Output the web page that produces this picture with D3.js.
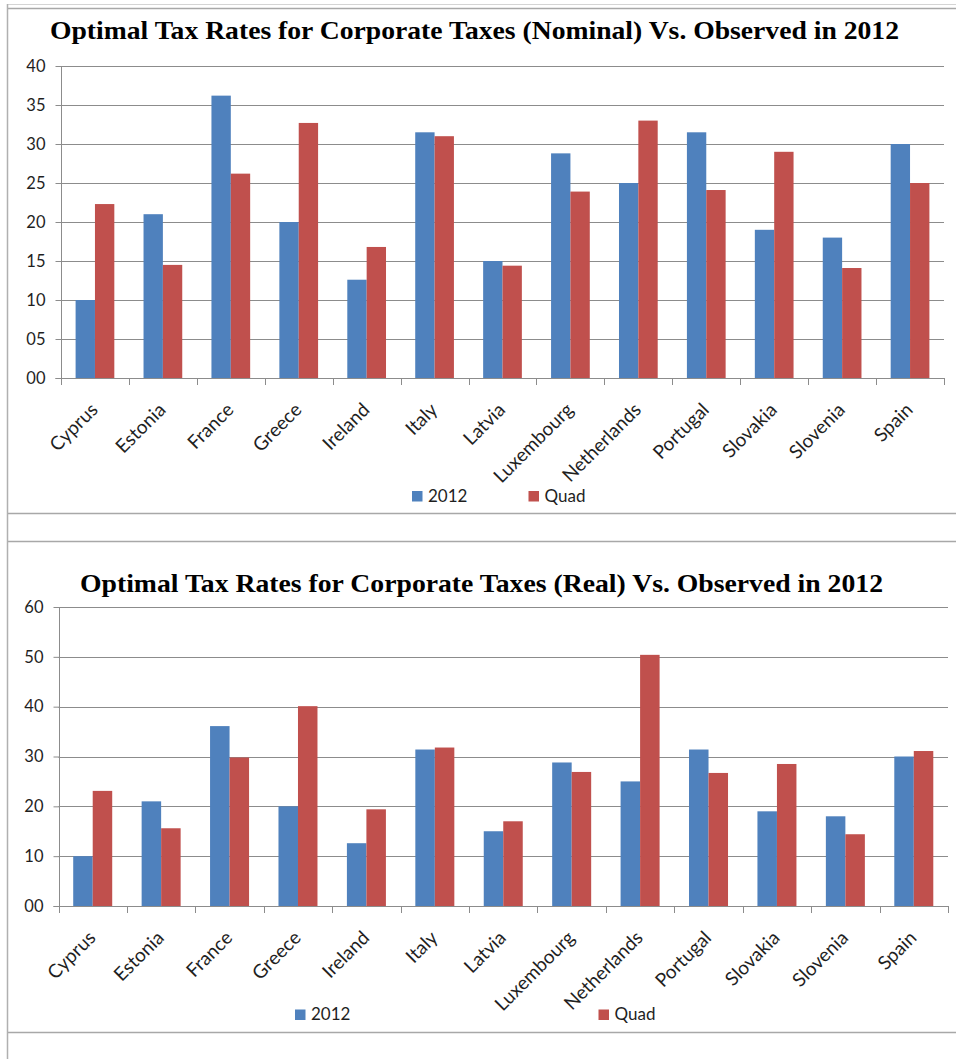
<!DOCTYPE html>
<html><head><meta charset="utf-8">
<script src="https://cdn.jsdelivr.net/npm/d3@7"></script>
<style>body{margin:0;background:#fff}svg{display:block}</style>
</head><body>
<script>
const categories = ["Cyprus","Estonia","France","Greece","Ireland","Italy","Latvia","Luxembourg","Netherlands","Portugal","Slovakia","Slovenia","Spain"];
const seriesNames = ["2012","Quad"];
const observed2012 = [10.0,21.0,36.2,20.0,12.6,31.5,15.0,28.8,25.0,31.5,19.0,18.0,30.0];
const quadNominal = [22.3,14.5,26.2,32.7,16.8,31.0,14.4,23.9,33.0,24.1,29.0,14.1,25.0];
const observed2012Real = [10.0,21.0,36.1,20.0,12.6,31.4,15.0,28.8,25.0,31.4,19.0,18.0,30.0];
const quadReal = [23.1,15.6,29.8,40.1,19.4,31.8,17.0,26.9,50.4,26.7,28.5,14.4,31.1];
const nominalTicks = [0,5,10,15,20,25,30,35,40];
const realTicks = [0,10,20,30,40,50,60];
const titles = ["Optimal Tax Rates for Corporate Taxes (Nominal) Vs. Observed in 2012",
                "Optimal Tax Rates for Corporate Taxes (Real) Vs. Observed in 2012"];

const colors = ["#4F81BD","#C0504D"];
const W = 956, H = 1059;
const svg = d3.select("body").append("svg").attr("width", W).attr("height", H);

// frames
const frame = svg.append("g").attr("fill","none");
frame.append("line").attr("x1",7).attr("x2",W).attr("y1",4.5).attr("y2",4.5).attr("stroke","#d4d4d4");
[8.5,513.5,541.5,1032.5].forEach(y=>frame.append("line").attr("x1",7).attr("x2",W).attr("y1",y).attr("y2",y).attr("stroke","#a8a8a8").attr("stroke-width",1.5));
frame.append("line").attr("x1",7.5).attr("x2",7.5).attr("y1",4).attr("y2",H).attr("stroke","#b0b0b0").attr("stroke-width",1.5);

function chart(cfg){
  const g = svg.append("g");
  const x = d3.scaleBand().domain(categories).range([cfg.left, cfg.right]).padding(0);
  const bw = x.bandwidth();
  const x1 = d3.scaleBand().domain(seriesNames).range([bw*0.215, bw*0.785]).padding(0);
  const y = d3.scaleLinear().domain([0, cfg.max]).range([cfg.bottom, cfg.top]);

  // gridlines
  g.append("g").selectAll("line").data(cfg.ticks).join("line")
    .attr("x1", cfg.left).attr("x2", cfg.right)
    .attr("y1", d=>Math.round(y(d))+0.5).attr("y2", d=>Math.round(y(d))+0.5)
    .attr("stroke","#8c8c8c").attr("stroke-width",1);

  // bars
  const data = [cfg.a, cfg.b];
  categories.forEach((c,i)=>{
    seriesNames.forEach((s,j)=>{
      g.append("rect")
        .attr("x", x(c)+x1(s)).attr("width", x1.bandwidth())
        .attr("y", y(data[j][i])).attr("height", y(0)-y(data[j][i]))
        .attr("fill", colors[j]);
    });
  });

  // y axis
  const ya = d3.axisLeft(y).tickValues(cfg.ticks).tickSize(6).tickPadding(10)
    .tickFormat(d=>d3.format("02d")(d));
  const yg = g.append("g").attr("transform",`translate(${Math.round(cfg.left)+0.5},0)`).call(ya);
  yg.select(".domain").attr("stroke","#8c8c8c").attr("d",`M-6,${Math.round(y(0))+0.5}H0V${Math.round(y(cfg.max))+0.5}`);
  yg.selectAll(".tick line").attr("stroke","#8c8c8c");
  yg.selectAll(".tick text").attr("font-family","Lato, sans-serif").attr("font-size",16.5).attr("fill","#1f1f1f");

  // x axis ticks at boundaries
  const bounds = categories.map(c=>x(c)).concat([cfg.right]);
  g.append("g").selectAll("line").data(bounds).join("line")
    .attr("x1",d=>Math.round(d)+0.5).attr("x2",d=>Math.round(d)+0.5)
    .attr("y1", Math.round(y(0))).attr("y2", Math.round(y(0))+7)
    .attr("stroke","#8c8c8c");
  g.append("line").attr("x1",cfg.left).attr("x2",cfg.right)
    .attr("y1",Math.round(y(0))+0.5).attr("y2",Math.round(y(0))+0.5).attr("stroke","#8c8c8c");

  // x labels
  g.append("g").selectAll("text").data(categories).join("text")
    .attr("transform", d=>`translate(${x(d)+bw/2+4},${y(0)+cfg.labOff}) rotate(-45)`)
    .attr("text-anchor","end")
    .attr("font-family","Lato, sans-serif").attr("font-size",19).attr("fill","#1f1f1f")
    .text(d=>d);

  // title
  g.append("text").attr("x", cfg.tx).attr("y", cfg.ty)
    .attr("textLength", cfg.tw).attr("lengthAdjust","spacingAndGlyphs")
    .attr("font-family","'Liberation Serif', 'Times New Roman', serif").attr("font-weight","bold")
    .attr("font-size",25).attr("fill","#000").text(cfg.title);

  // legend
  const lg = g.append("g");
  seriesNames.forEach((s,j)=>{
    lg.append("rect").attr("x",cfg.leg[j]).attr("y",cfg.ly-10.5).attr("width",10.5).attr("height",10.5).attr("fill",colors[j]);
    lg.append("text").attr("x",cfg.leg[j]+16).attr("y",cfg.ly)
      .attr("font-family","Lato, sans-serif").attr("font-size",17).attr("fill","#1f1f1f").text(s);
  });
}

chart({left:61, right:944, top:66, bottom:378, max:40, ticks:nominalTicks,
  a:observed2012, b:quadNominal, title:titles[0], tx:50, ty:39, tw:849, labOff:33,
  leg:[412,528.5], ly:501.5});
chart({left:58.5, right:948, top:607, bottom:906, max:60, ticks:realTicks,
  a:observed2012Real, b:quadReal, title:titles[1], tx:80, ty:591.5, tw:803, labOff:33,
  leg:[295,598.5], ly:1020});
</script>
</body></html>
